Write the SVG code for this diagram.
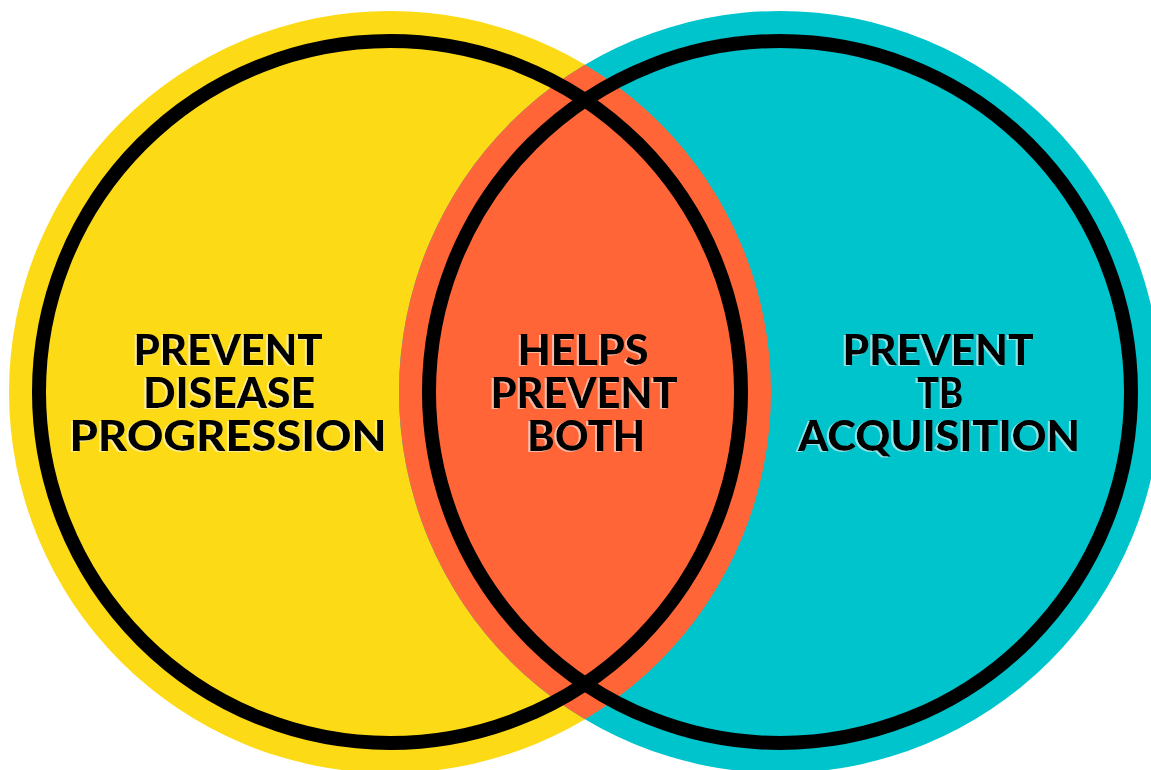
<svg xmlns="http://www.w3.org/2000/svg" width="1151" height="770" viewBox="0 0 1151 770">
  <style>
    .ring { fill: none; stroke: #000; stroke-width: 14; }
    .lbl { font-family: Lato, "Liberation Sans", sans-serif; font-weight: 900; font-size: 42px; fill: #000; text-anchor: middle; filter: url(#glow); }
  </style>
  <defs>
    <filter id="glow" x="-10%" y="-20%" width="120%" height="140%">
      <feDropShadow dx="-2" dy="1" stdDeviation="0" flood-color="#ffffff" flood-opacity="0.55"/>
    </filter>
    <clipPath id="clipCyan">
      <circle cx="780" cy="392" r="381"/>
    </clipPath>
  </defs>

  <rect width="1151" height="770" fill="#ffffff"/>

  <g id="fills">
    <circle cx="390" cy="392" r="381" fill="#FDDA16"/>
    <circle cx="780" cy="392" r="381" fill="#00C4CC"/>
    <circle cx="390" cy="392" r="381" fill="#FF6536" clip-path="url(#clipCyan)"/>
  </g>

  <g id="connectors"></g>

  <g id="node-left">
    <circle class="ring" cx="390" cy="392" r="351"/>
    <text class="lbl" x="228" y="365" textLength="189" lengthAdjust="spacingAndGlyphs">PREVENT</text>
    <text class="lbl" x="229" y="408" textLength="172" lengthAdjust="spacingAndGlyphs">DISEASE</text>
    <text class="lbl" x="228" y="451" textLength="317" lengthAdjust="spacingAndGlyphs">PROGRESSION</text>
  </g>

  <g id="node-right">
    <circle class="ring" cx="780" cy="392" r="351"/>
    <text class="lbl" x="938" y="365" textLength="191" lengthAdjust="spacingAndGlyphs">PREVENT</text>
    <text class="lbl" x="940" y="408" textLength="46" lengthAdjust="spacingAndGlyphs">TB</text>
    <text class="lbl" x="939" y="451" textLength="282" lengthAdjust="spacingAndGlyphs">ACQUISITION</text>
  </g>

  <g id="node-overlap">
    <text class="lbl" x="583" y="365" textLength="131" lengthAdjust="spacingAndGlyphs">HELPS</text>
    <text class="lbl" x="584" y="408" textLength="187" lengthAdjust="spacingAndGlyphs">PREVENT</text>
    <text class="lbl" x="586" y="451" textLength="118" lengthAdjust="spacingAndGlyphs">BOTH</text>
  </g>
</svg>
